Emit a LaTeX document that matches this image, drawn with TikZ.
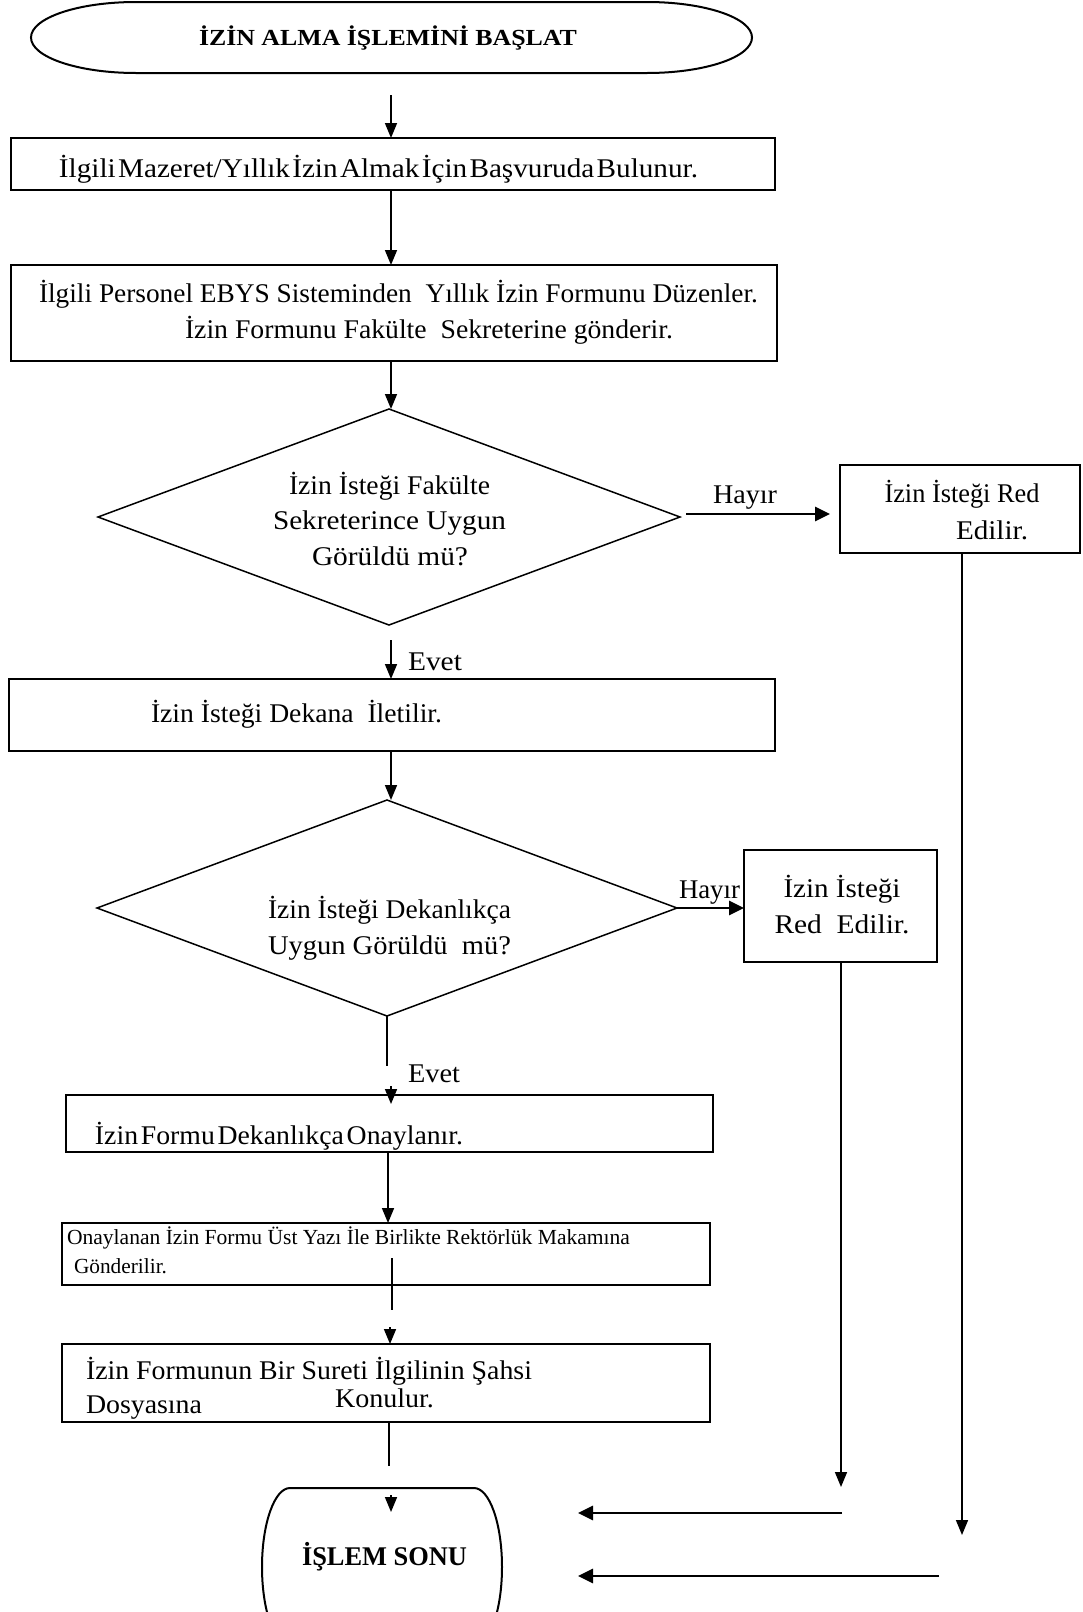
\documentclass[tikz,border=0pt]{standalone}
\usepackage{fontspec}
\setmainfont{Liberation Serif}
\usetikzlibrary{arrows.meta,shapes.geometric}

% set a text in its font, then stretch it horizontally to a given width (in pt)
\newsavebox\fitbox
\newlength\fitlen
\newcommand\fitw[2]{\sbox\fitbox{#2}\setlength\fitlen{\wd\fitbox}%
  \pgfmathsetmacro\fitfac{#1/\fitlen}\scalebox{\fitfac}[1]{\usebox\fitbox}}

\begin{document}
\begin{tikzpicture}[x=1pt,y=-1pt,
  every node/.style={inner sep=0pt,outer sep=0pt},
  txt/.style={anchor=base,font=\fontsize{27}{32}\selectfont},
  smalltxt/.style={anchor=base,font=\fontsize{21.5}{26}\selectfont},
  titletxt/.style={anchor=base,font=\fontsize{23}{28}\selectfont\bfseries},
  endtxt/.style={anchor=base,font=\fontsize{27}{32}\selectfont\bfseries},
  procbox/.style={draw,line width=2.3pt,rectangle},
  decision/.style={draw,line width=1.5pt,diamond},
  terminal/.style={line width=2pt},
  flowline/.style={line width=1.6pt},
  arr/.style={flowline,-{Triangle[length=15pt,width=12pt]}},
  thickarr/.style={line width=2.9pt,-{Triangle[length=15pt,width=14pt]}},
]
\fill[white] (0,0) rectangle (1083,1612);
\useasboundingbox (0,0) rectangle (1083,1612);
\clip (0,0) rectangle (1083,1612);

% ---------- start terminal ----------
\node[minimum width=721pt,minimum height=71pt] (start) at (391.5,37.5) {};
\draw[terminal] ([xshift=105pt]start.north west) -- ([xshift=-105pt]start.north east)
  arc[start angle=90,end angle=-90,x radius=105pt,y radius=35.5pt]
  -- ([xshift=105pt]start.south west)
  arc[start angle=270,end angle=90,x radius=105pt,y radius=35.5pt] -- cycle;
\node[titletxt] (title) at (388,45) {\fitw{378}{İZİN ALMA İŞLEMİNİ BAŞLAT}};

% ---------- main column ----------
\coordinate (colA) at (391,0);

\node[procbox,minimum width=764pt,minimum height=52pt] (b1) at (393,164) {};
\node[txt] (b1t) at (378.5,177) {\fitw{639}{\spaceskip=0.08em İlgili Mazeret/Yıllık İzin Almak İçin Başvuruda Bulunur.}};

\node[procbox,minimum width=766pt,minimum height=96pt] (b2) at (394,313) {};
\node[txt] (b2a) at (398.5,302) {\fitw{719}{İlgili Personel EBYS Sisteminden~~Yıllık İzin Formunu Düzenler.}};
\node[txt] (b2b) at (429,338) {\fitw{488}{İzin Formunu Fakülte~~Sekreterine gönderir.}};

\node[decision,minimum width=582pt,minimum height=216pt] (d1) at (389,517) {};
\node[txt] (d1a) at (389.5,494) {\fitw{201}{İzin İsteği Fakülte}};
\node[txt] (d1b) at (389.5,529) {\fitw{233}{Sekreterince Uygun}};
\node[txt] (d1c) at (390,565) {\fitw{156}{Görüldü mü?}};

\node[procbox,minimum width=240pt,minimum height=88pt] (red1) at (960,509) {};
\node[txt] (red1a) at (962,502) {\fitw{155}{İzin İsteği Red}};
\node[txt] (red1b) at (992,539) {\fitw{72}{Edilir.}};
\node[txt] (hayir1) at (745,503) {\fitw{64}{Hayır}};

\node[procbox,minimum width=766pt,minimum height=72pt] (b3) at (392,715) {};
\node[txt] (b3t) at (296.5,722) {\fitw{291}{İzin İsteği Dekana~~İletilir.}};
\node[txt] (evet1) at (435,670) {\fitw{54}{Evet}};

\node[decision,minimum width=580pt,minimum height=216pt] (d2) at (387,908) {};
\node[txt] (d2a) at (389.5,918) {\fitw{243}{İzin İsteği Dekanlıkça}};
\node[txt] (d2b) at (389.5,954) {\fitw{243}{Uygun Görüldü~~mü?}};

\node[procbox,minimum width=193pt,minimum height=112pt] (red2) at (840.5,906) {};
\node[txt] (red2a) at (842,897) {\fitw{117}{İzin İsteği}};
\node[txt] (red2b) at (842,933) {\fitw{135}{Red~~Edilir.}};
\node[txt] (hayir2) at (709.5,898) {\fitw{61}{Hayır}};

\node[txt] (evet2) at (434,1082) {\fitw{52}{Evet}};
\node[procbox,minimum width=647pt,minimum height=57pt] (b4) at (389.5,1123.5) {};
\node[txt] (b4t) at (279,1144) {\fitw{368}{\spaceskip=0.1em İzin Formu Dekanlıkça Onaylanır.}};

\node[procbox,minimum width=648pt,minimum height=62pt] (b5) at (386,1254) {};
\node[smalltxt] (b5a) at (348.5,1244) {\fitw{563}{Onaylanan İzin Formu Üst Yazı İle Birlikte Rektörlük Makamına}};
\node[smalltxt] (b5b) at (120.5,1273) {\fitw{93}{Gönderilir.}};

\node[procbox,minimum width=648pt,minimum height=78pt] (b6) at (386,1383) {};
\node[txt] (b6a) at (309,1379) {\fitw{446}{İzin Formunun Bir Sureti İlgilinin Şahsi}};
\node[txt] (b6b) at (144,1413) {\fitw{116}{Dosyasına}};
\node[txt] (b6c) at (384.5,1407) {\fitw{99}{Konulur.}};

% ---------- end terminal ----------
\node[minimum width=240pt,minimum height=158pt] (end) at (382,1567) {};
\draw[terminal] ([xshift=28pt]end.north west) -- ([xshift=-28pt]end.north east)
  arc[start angle=90,end angle=-90,x radius=28pt,y radius=79pt]
  -- ([xshift=28pt]end.south west)
  arc[start angle=270,end angle=90,x radius=28pt,y radius=79pt] -- cycle;
\node[endtxt] (endt) at (384.5,1565) {\fitw{165}{İŞLEM SONU}};

% ---------- connectors ----------
\coordinate (a1s) at (391,95);
\draw[arr] (a1s) -- (a1s |- b1.north);
\draw[arr] (b1.south -| colA) -- (b2.north -| colA);
\draw[arr] (b2.south -| colA) -- (d1.north -| colA);

\coordinate (h1s) at (686,514);
\coordinate (h1e) at (830,514);
\draw[thickarr] (h1s) -- (h1e);

\coordinate (e1s) at (391,640);
\draw[arr] (e1s) -- (e1s |- b3.north);
\draw[arr] (b3.south -| colA) -- (d2.north -| colA);

\draw[thickarr] (d2.east) -- (d2.east -| red2.west);

\coordinate (r1x) at (962,0);
\coordinate (r1end) at (962,1535);
\draw[arr] (red1.south -| r1x) -- (r1end);
\coordinate (r2x) at (841,0);
\coordinate (r2end) at (841,1487);
\draw[arr] (red2.south -| r2x) -- (r2end);

\coordinate (e2end) at (387,1066);
\draw[flowline] (d2.south) -- (e2end);
\coordinate (e2h) at (391,1086);
\coordinate (e2t) at (391,1104);
\draw[arr] (e2h) -- (e2t);

\coordinate (a5x) at (388,0);
\draw[arr] (b4.south -| a5x) -- (b5.north -| a5x);

\coordinate (b5ls) at (392,1258);
\coordinate (b5le) at (392,1310);
\draw[flowline] (b5ls) -- (b5le);
\coordinate (b6h) at (390,1327);
\draw[arr] (b6h) -- (b6h |- b6.north);

\coordinate (b6x) at (389,0);
\coordinate (b6le) at (389,1466);
\draw[flowline] (b6.south -| b6x) -- (b6le);
\coordinate (endh) at (391,1495);
\coordinate (endt2) at (391,1512);
\draw[arr] (endh) -- (endt2);

\coordinate (bt1s) at (842,1513);
\coordinate (bt1e) at (578,1513);
\draw[thickarr] (bt1s) -- (bt1e);
\coordinate (bt2s) at (939,1576);
\coordinate (bt2e) at (578,1576);
\draw[thickarr] (bt2s) -- (bt2e);
\end{tikzpicture}
\end{document}
